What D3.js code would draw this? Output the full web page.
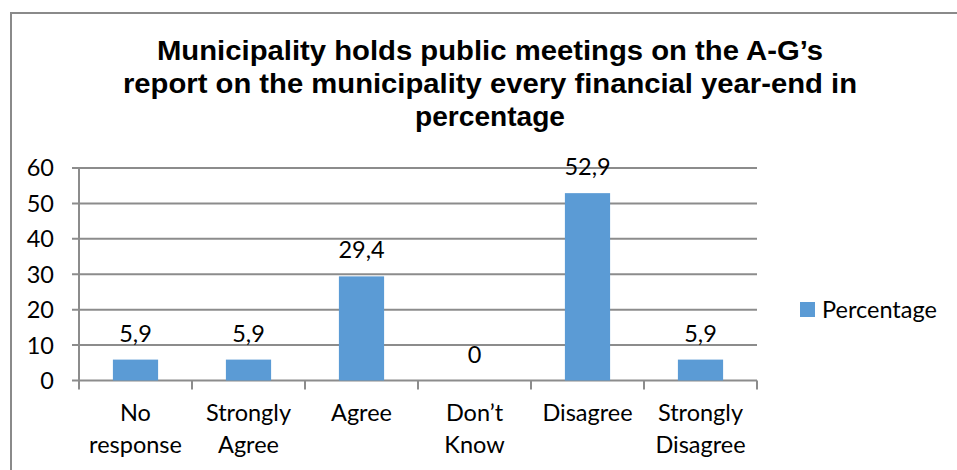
<!DOCTYPE html>
<html>
<head>
<meta charset="utf-8">
<script src="https://cdn.jsdelivr.net/npm/d3@7"></script>
<style>
  html, body { margin: 0; padding: 0; background: #fff; }
  svg { display: block; }
</style>
</head>
<body>
<svg id="chart" width="957" height="470"></svg>
<script>
// Survey responses (percentage of respondents)
const categories = [["No", "response"], ["Strongly", "Agree"], ["Agree"], ["Don’t", "Know"], ["Disagree"], ["Strongly", "Disagree"]];
const values = [5.9, 5.9, 29.4, 0, 52.9, 5.9];
const valueLabels = ["5,9", "5,9", "29,4", "0", "52,9", "5,9"];
const yTicks = [0, 10, 20, 30, 40, 50, 60];
const titleLines = [
  "Municipality holds public meetings on the A-G’s",
  "report on the municipality every financial year-end in",
  "percentage"
];
const seriesName = "Percentage";

const svg = d3.select("#chart");
const barColor = "#5B9BD5";
const gridColor = "#8c8c8c";
const labelFont = "Lato, 'Open Sans', sans-serif";
const labelSize = 23.5;

// chart frame (left and top edges visible)
svg.append("path")
  .attr("d", "M11,470 V13 H957")
  .attr("fill", "none")
  .attr("stroke", "#8a8a8a")
  .attr("stroke-width", 2);

// title, condensed bold lines fitted to fixed widths
const title = svg.append("g");
const titleWidths = [666, 734, 150];
titleLines.forEach((t, i) => {
  title.append("text")
    .attr("x", 490)
    .attr("y", 60 + i * 33)
    .attr("text-anchor", "middle")
    .attr("font-family", "'Liberation Sans', Arial, sans-serif")
    .attr("font-weight", "bold")
    .attr("font-size", 28.5)
    .attr("textLength", titleWidths[i])
    .attr("lengthAdjust", "spacingAndGlyphs")
    .attr("fill", "#000")
    .text(t);
});

const plot = { left: 79, right: 757, top: 168, bottom: 380.5 };

const x = d3.scaleBand()
  .domain(d3.range(categories.length))
  .range([plot.left, plot.right])
  .paddingInner(0)
  .paddingOuter(0);

const y = d3.scaleLinear()
  .domain([0, 60])
  .range([plot.bottom, plot.top]);

// horizontal gridlines
svg.append("g")
  .selectAll("line")
  .data(yTicks)
  .join("line")
  .attr("x1", plot.left - 7)
  .attr("x2", plot.right)
  .attr("y1", d => y(d))
  .attr("y2", d => y(d))
  .attr("stroke", gridColor)
  .attr("stroke-width", 2);

// y axis line
svg.append("line")
  .attr("x1", plot.left).attr("x2", plot.left)
  .attr("y1", plot.top).attr("y2", plot.bottom + 9)
  .attr("stroke", gridColor).attr("stroke-width", 2);

// category boundary ticks
svg.append("g")
  .selectAll("line")
  .data(d3.range(1, categories.length + 1))
  .join("line")
  .attr("x1", i => x.step() * i + plot.left)
  .attr("x2", i => x.step() * i + plot.left)
  .attr("y1", plot.bottom)
  .attr("y2", plot.bottom + 9)
  .attr("stroke", gridColor)
  .attr("stroke-width", 2);

// y tick labels
svg.append("g")
  .selectAll("text")
  .data(yTicks)
  .join("text")
  .attr("x", 54)
  .attr("y", d => y(d))
  .attr("dy", "0.36em")
  .attr("text-anchor", "end")
  .attr("font-family", labelFont)
  .attr("font-size", labelSize)
  .attr("fill", "#000")
  .text(d => d);

// bars
const barW = x.bandwidth() * 0.4;
svg.append("g")
  .selectAll("rect")
  .data(values)
  .join("rect")
  .attr("x", (d, i) => x(i) + (x.bandwidth() - barW) / 2)
  .attr("y", d => y(d))
  .attr("width", barW)
  .attr("height", d => y(0) - y(d))
  .attr("fill", barColor);

// value labels
svg.append("g")
  .selectAll("text")
  .data(values)
  .join("text")
  .attr("x", (d, i) => x(i) + x.bandwidth() / 2)
  .attr("y", d => y(d) - 18)
  .attr("text-anchor", "middle")
  .attr("font-family", labelFont)
  .attr("font-size", labelSize)
  .attr("fill", "#000")
  .text((d, i) => valueLabels[i]);

// category labels
const cat = svg.append("g");
categories.forEach((lines, i) => {
  lines.forEach((ln, j) => {
    cat.append("text")
      .attr("x", x(i) + x.bandwidth() / 2)
      .attr("y", 421 + j * 32)
      .attr("text-anchor", "middle")
      .attr("font-family", labelFont)
      .attr("font-size", labelSize)
      .attr("fill", "#000")
      .text(ln);
  });
});

// legend
const legend = svg.append("g");
legend.append("rect")
  .attr("x", 800).attr("y", 302)
  .attr("width", 15).attr("height", 15)
  .attr("fill", barColor);
legend.append("text")
  .attr("x", 822).attr("y", 318)
  .attr("font-family", labelFont)
  .attr("font-size", labelSize)
  .attr("fill", "#000")
  .text(seriesName);
</script>
</body>
</html>
